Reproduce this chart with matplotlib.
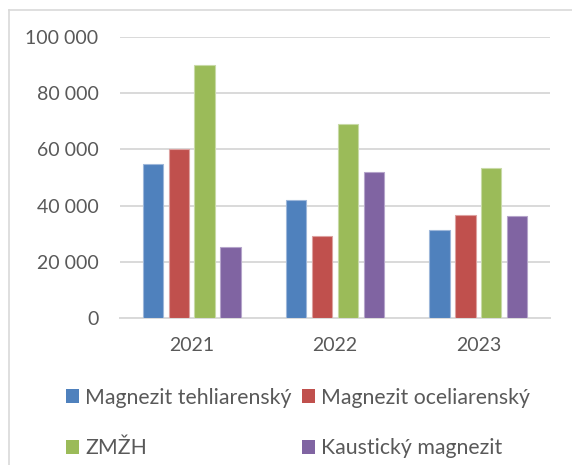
import matplotlib
matplotlib.use("Agg")
import matplotlib.pyplot as plt
import numpy as np
from matplotlib.lines import Line2D
from matplotlib.patches import Patch

years = ["2021", "2022", "2023"]
series_names = ["Magnezit tehliarenský", "Magnezit oceliarenský", "ZMŽH", "Kaustický magnezit"]
tehliarensky = [54700, 41900, 31300]
oceliarensky = [60100, 29300, 36500]
zmzh = [90000, 69100, 53500]
kausticky = [25300, 52100, 36300]
y_ticks = [0, 20000, 40000, 60000, 80000, 100000]
y_tick_labels = ["0", "20 000", "40 000", "60 000", "80 000", "100 000"]

colors = ["#4F81BD", "#C0504D", "#9BBB59", "#8064A2"]
edge_colors = ["#9DB7DA", "#DDA1A0", "#C8DAA6", "#B5A4CA"]
text_color = "#595959"
grid_color = "#D9D9D9"

plt.rcParams["font.family"] = ["Lato", "DejaVu Sans"]

W, H = 572, 465
fig = plt.figure(figsize=(W / 100, H / 100), dpi=100)
fig.patch.set_facecolor("white")

ax = fig.add_axes([120 / W, 1 - 318 / H, 430 / W, (318 - 37) / H])

data = [tehliarensky, oceliarensky, zmzh, kausticky]
x = np.arange(len(years))
bw = 0.142
step = 0.181
offsets = (np.arange(4) - 1.5) * step
for i, vals in enumerate(data):
    ax.bar(x + offsets[i], vals, width=bw, color=colors[i], edgecolor=edge_colors[i],
           linewidth=0.8, zorder=3, label=series_names[i])

ax.set_xlim(-0.5, 2.5)
ax.set_ylim(0, 100000)
ax.set_yticks(y_ticks)
ax.set_yticklabels(y_tick_labels)
ax.set_xticks(x)
ax.set_xticklabels(years)
ax.tick_params(axis="both", length=0, colors=text_color, labelsize=14)
ax.tick_params(axis="y", pad=15.5)
ax.tick_params(axis="x", pad=14)
for s in ["top", "right", "left"]:
    ax.spines[s].set_visible(False)
ax.spines["bottom"].set_color(grid_color)
ax.spines["bottom"].set_linewidth(1.4)
ax.yaxis.grid(True, color=grid_color, linewidth=1.4, zorder=0)
ax.set_axisbelow(True)

# chart border (partially visible)
fig.add_artist(Line2D([8.5 / W, 8.5 / W], [0, 1 - 10.5 / H], transform=fig.transFigure,
                      color=grid_color, linewidth=1.2))
fig.add_artist(Line2D([8.5 / W, 1], [1 - 10.5 / H, 1 - 10.5 / H], transform=fig.transFigure,
                      color=grid_color, linewidth=1.2))

order = [0, 2, 1, 3]
handles = [Patch(facecolor=colors[i], edgecolor="none") for i in order]
labels = [series_names[i] for i in order]
leg = fig.legend(handles, labels, ncol=2, loc="center", bbox_to_anchor=(298 / W, 1 - 423 / H),
                 frameon=False, fontsize=15.3, handlelength=0.62, handleheight=0.62,
                 handletextpad=0.3, columnspacing=0.45, labelspacing=1.45, borderpad=0)
for t in leg.get_texts():
    t.set_color(text_color)

fig.savefig("out.png", dpi=100)
